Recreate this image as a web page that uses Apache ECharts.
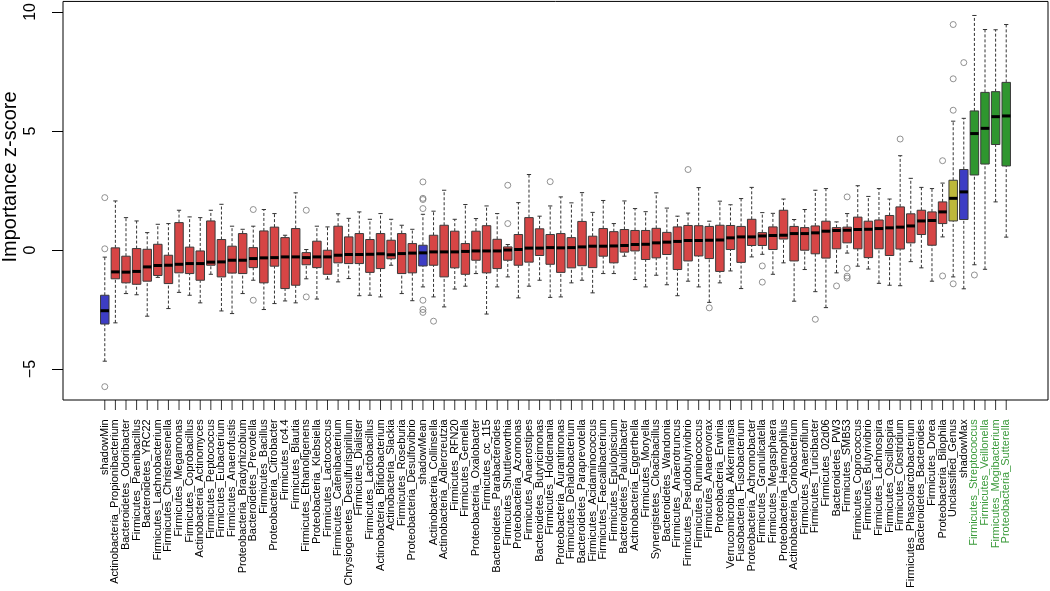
<!DOCTYPE html>
<html><head><meta charset="utf-8">
<script src="https://cdn.jsdelivr.net/npm/echarts@6/dist/echarts.min.js"></script>
<style>html,body{margin:0;padding:0;background:#fff}#c{width:1050px;height:591px}</style>
</head><body><div id="c"></div>
<script>
const categories = ["shadowMin","Actinobacteria_Propionibacterium","Bacteroidetes_Odoribacter","Firmicutes_Paenibacillus","Bacteroidetes_YRC22","Firmicutes_Lachnobacterium","Firmicutes_Christensenella","Firmicutes_Megamonas","Firmicutes_Coprobacillus","Actinobacteria_Actinomyces","Firmicutes_Peptococcus","Firmicutes_Eubacterium","Firmicutes_Anaerofustis","Proteobacteria_Bradyrhizobium","Bacteroidetes_Prevotella","Firmicutes_Bacillus","Proteobacteria_Citrobacter","Firmicutes_rc4.4","Firmicutes_Blautia","Firmicutes_Ethanoligenens","Proteobacteria_Klebsiella","Firmicutes_Lactococcus","Firmicutes_Catenibacterium","Chrysiogenetes_Desulfurispirillum","Firmicutes_Dialister","Firmicutes_Lactobacillus","Actinobacteria_Bifidobacterium","Actinobacteria_Slackia","Firmicutes_Roseburia","Proteobacteria_Desulfovibrio","shadowMean","Actinobacteria_Collinsella","Actinobacteria_Adlercreutzia","Firmicutes_RFN20","Firmicutes_Gemella","Proteobacteria_Oxalobacter","Firmicutes_cc_115","Bacteroidetes_Parabacteroides","Firmicutes_Shuttleworthia","Proteobacteria_Azomonas","Firmicutes_Anaerostipes","Bacteroidetes_Butyricimonas","Firmicutes_Holdemania","Proteobacteria_Aurantimonas","Firmicutes_Dehalobacterium","Bacteroidetes_Paraprevotella","Firmicutes_Acidaminococcus","Firmicutes_Faecalibacterium","Firmicutes_Epulopiscium","Bacteroidetes_Paludibacter","Actinobacteria_Eggerthella","Firmicutes_Moryella","Synergistetes_Cloacibacillus","Bacteroidetes_Wandonia","Firmicutes_Anaerotruncus","Firmicutes_Pseudobutyrivibrio","Firmicutes_Ruminococcus","Firmicutes_Anaerovorax","Proteobacteria_Erwinia","Verrucomicrobia_Akkermansia","Fusobacteria_Fusobacterium","Proteobacteria_Achromobacter","Firmicutes_Granulicatella","Firmicutes_Megasphaera","Proteobacteria_Haemophilus","Actinobacteria_Coriobacterium","Firmicutes_Anaerofilum","Firmicutes_Turicibacter","Firmicutes_02d06","Bacteroidetes_PW3","Firmicutes_SMB53","Firmicutes_Coprococcus","Firmicutes_Butyrivibrio","Firmicutes_Lachnospira","Firmicutes_Oscillospira","Firmicutes_Clostridium","Firmicutes_Phascolarctobacterium","Bacteroidetes_Bacteroides","Firmicutes_Dorea","Proteobacteria_Bilophila","Unclassified_Genus","shadowMax","Firmicutes_Streptococcus","Firmicutes_Veillonella","Firmicutes_Mogibacterium","Proteobacteria_Sutterella"];

const status = categories.map(function(c, i){
  if (c.indexOf('shadow') === 0) return 'Shadow';
  if (c === 'Unclassified_Genus') return 'Tentative';
  if (i >= 82) return 'Confirmed';
  return 'Rejected';
});

const lowerWhisker = [-4.67,-3.06,-1.83,-1.88,-2.78,-1.15,-2.46,-1.78,-1.90,-2.22,-1.02,-2.56,-2.67,-1.83,-1.27,-2.50,-2.25,-2.14,-2.22,-1.21,-2.06,-1.22,-1.34,-1.20,-1.92,-1.90,-1.97,-0.64,-1.83,-2.13,-1.55,-1.97,-2.39,-1.64,-1.52,-0.99,-2.69,-1.55,-1.13,-2.01,-1.52,-1.27,-1.99,-1.97,-1.38,-1.27,-1.80,-0.99,-0.99,-0.26,-1.24,-1.55,-1.06,-1.46,-1.92,-1.31,-1.55,-2.20,-1.38,-0.88,-1.62,-0.29,-0.18,-1.02,-0.54,-2.15,-0.82,-1.75,-2.42,-0.96,-0.13,-0.68,-0.80,-1.40,-1.48,-1.50,-0.49,-0.75,-1.31,0.55,-1.13,-1.63,-0.62,-0.81,2.02,0.54];
const q1 = [-3.11,-1.21,-1.38,-1.44,-1.31,-1.07,-1.41,-0.96,-0.99,-1.27,-0.64,-1.13,-0.97,-0.99,-0.74,-1.38,-0.68,-1.62,-1.48,-0.62,-0.74,-1.02,-0.54,-0.57,-0.57,-0.94,-0.78,-0.37,-0.99,-0.96,-0.67,-0.64,-1.13,-0.75,-1.02,-0.43,-0.96,-0.78,-0.43,-0.64,-0.51,-0.23,-0.60,-0.94,-0.75,-0.66,-0.74,-0.26,-0.54,-0.09,-0.04,-0.40,-0.33,-0.19,-0.82,-0.46,-0.25,-0.36,-0.90,0.02,-0.52,0.19,0.19,0.02,0.46,-0.46,-0.01,-0.16,-0.34,0.05,0.30,0.05,-0.32,0.05,-0.23,0.04,0.30,0.65,0.20,1.11,1.22,1.28,3.15,3.61,4.43,3.53];
const median = [-2.55,-0.92,-0.93,-0.90,-0.71,-0.65,-0.64,-0.60,-0.57,-0.57,-0.51,-0.50,-0.43,-0.43,-0.36,-0.33,-0.32,-0.29,-0.29,-0.32,-0.29,-0.29,-0.22,-0.19,-0.19,-0.18,-0.16,-0.20,-0.15,-0.13,-0.12,-0.08,-0.08,-0.08,-0.06,-0.04,-0.04,-0.04,0.00,0.02,0.08,0.08,0.10,0.09,0.10,0.13,0.16,0.16,0.17,0.19,0.23,0.24,0.30,0.33,0.36,0.40,0.40,0.41,0.42,0.51,0.55,0.55,0.59,0.61,0.62,0.69,0.69,0.72,0.79,0.82,0.83,0.86,0.87,0.90,0.93,0.96,1.01,1.22,1.24,1.60,2.17,2.44,4.89,5.11,5.60,5.63];
const q3 = [-1.90,0.09,-0.26,0.06,0.03,0.24,-0.22,1.15,0.12,-0.04,1.22,0.44,0.16,0.69,0.10,0.80,0.96,0.52,0.90,-0.11,0.37,-0.01,1.00,0.55,0.69,0.44,0.69,0.41,0.69,0.27,0.20,0.62,1.04,0.79,0.27,0.79,1.02,0.45,0.13,0.65,1.36,0.89,0.65,0.69,0.52,1.20,0.58,0.90,0.77,0.86,0.82,0.82,0.91,0.74,0.97,1.03,1.02,0.99,1.04,1.03,0.99,1.29,0.73,0.97,1.67,0.99,0.94,1.01,1.21,0.94,0.96,1.38,1.21,1.26,1.45,1.81,1.52,1.67,1.60,2.02,2.93,3.38,5.84,6.62,6.65,7.04];
const upperWhisker = [-0.30,2.06,1.36,1.22,0.73,1.08,1.11,1.67,1.39,1.36,1.67,1.92,1.00,0.87,1.00,1.70,1.53,0.62,2.40,0.02,1.00,0.97,1.52,1.33,1.60,1.29,1.53,1.29,1.04,0.87,1.50,1.63,2.51,1.29,1.91,1.32,1.85,1.53,0.23,1.99,3.17,1.42,1.85,2.23,1.98,2.41,1.58,2.08,1.11,2.06,1.74,1.61,2.40,1.76,1.42,1.55,2.62,1.21,2.05,1.90,2.16,2.63,1.57,1.54,2.14,1.28,1.70,2.51,2.58,1.18,1.53,2.70,2.25,2.58,2.14,3.96,3.01,2.63,2.58,2.81,5.41,5.53,9.85,9.26,9.25,9.47];
const outliers = [[2.20,0.05,-5.74],[],[],[],[],[],[],[],[],[],[],[],[],[],[1.70,-2.11],[],[],[],[],[1.67,-1.97],[],[],[],[],[],[],[],[],[],[],[2.86,2.17,2.12,1.74,-2.11,-2.50,-2.62],[-2.99],[],[],[],[],[],[],[2.72,1.11],[],[],[],[2.87],[],[],[],[],[],[],[],[],[],[],[],[],[3.38],[],[-2.43],[],[],[],[],[-0.67,-1.35],[],[],[],[],[-2.91],[],[-1.51],[2.23,-0.77,-1.10,-1.18],[],[],[],[],[4.66],[],[],[],[3.75,-1.09],[9.47,7.19,5.87,-1.42],[7.87],[-1.05],[],[],[]];
const yTicks = [-5, 0, 5, 10];
const yLabel = 'Importance z-score';

const FONT = '"Liberation Sans", Arial, Helvetica, sans-serif';
const fills = {Rejected: '#D64545', Shadow: '#3D3DC4', Tentative: '#BDB83A', Confirmed: '#2F962F'};

const X_MIN = -2.94, X_MAX = 89.94, Y_MIN = -6.30, Y_MAX = 10.44;
const G_LEFT = 63, G_RIGHT = 2, G_TOP = 1, G_BOTTOM = 191;
const TICK_LEN = 10;
const plotW = 1050 - G_LEFT - G_RIGHT;
const unit = plotW / (X_MAX - X_MIN);
const bandLeft = G_LEFT + (0.5 - X_MIN) * unit;
const bandRight = 1050 - (bandLeft + categories.length * unit);

const boxData = categories.map(function(c, i){ return [i + 1, lowerWhisker[i], q1[i], median[i], q3[i], upperWhisker[i]]; });
const outData = [];
outliers.forEach(function(arr, i){ arr.forEach(function(v){ outData.push([i + 1, v]); }); });
const tickData = categories.map(function(c, i){ return [i + 1, 0]; });
const catData = categories.map(function(c, i){
  return status[i] === 'Confirmed' ? {value: c, textStyle: {color: '#3A9A3A'}} : c;
});

const chart = echarts.init(document.getElementById('c'), null, {renderer: 'canvas'});
chart.setOption({
  animation: false,
  backgroundColor: '#fff',
  grid: [
    {left: G_LEFT, right: G_RIGHT, top: G_TOP, bottom: G_BOTTOM, show: true, borderColor: '#000', borderWidth: 1, backgroundColor: 'transparent'},
    {left: bandLeft, right: bandRight, top: G_TOP, bottom: G_BOTTOM},
    {left: G_LEFT, right: G_RIGHT, top: 591 - G_BOTTOM, height: TICK_LEN}
  ],
  xAxis: [{
    gridIndex: 0, type: 'value', min: X_MIN, max: X_MAX, show: false
  }, {
    gridIndex: 1, type: 'category', data: catData, boundaryGap: true,
    axisLine: {show: false, onZero: false},
    axisTick: {show: false},
    axisLabel: {interval: 0, rotate: 90, fontSize: 11, margin: 29, color: '#000', fontFamily: FONT}
  }, {
    gridIndex: 2, type: 'value', min: X_MIN, max: X_MAX, show: false
  }],
  yAxis: [{
    gridIndex: 0, type: 'value', min: Y_MIN, max: Y_MAX,
    splitLine: {show: false}, axisLine: {show: false, onZero: false},
    axisTick: {show: true, customValues: yTicks, length: 11, lineStyle: {color: '#000', width: 1}},
    axisLabel: {
      customValues: yTicks, rotate: 90, fontSize: 16, margin: 24, color: '#000', fontFamily: FONT,
      formatter: function(v){ return v < 0 ? '\u2212' + Math.abs(v) : String(v); }
    }
  }, {
    gridIndex: 1, type: 'value', show: false
  }, {
    gridIndex: 2, type: 'value', min: -1, max: 1, show: false
  }],
  graphic: [{
    type: 'text', x: 10, y: 177, rotation: Math.PI / 2,
    style: {text: yLabel, fontSize: 20, fontFamily: FONT, fill: '#000', align: 'center', verticalAlign: 'middle'}
  }],
  series: [{
    type: 'custom',
    xAxisIndex: 0, yAxisIndex: 0,
    data: boxData,
    encode: {x: 0, y: [1, 2, 3, 4, 5]},
    renderItem: function(params, api){
      var x = api.value(0);
      var lo = api.coord([x, api.value(1)]);
      var a = api.coord([x, api.value(2)]);
      var m = api.coord([x, api.value(3)]);
      var b = api.coord([x, api.value(4)]);
      var hi = api.coord([x, api.value(5)]);
      var w = api.size([0.8, 0])[0];
      var cw = w * 0.5;
      var cx = lo[0];
      var fill = fills[status[params.dataIndex]];
      var wl = {stroke: '#333', lineWidth: 1, lineDash: [3, 2]};
      var sl = {stroke: '#333', lineWidth: 1};
      return {type: 'group', children: [
        {type: 'line', shape: {x1: cx, y1: lo[1], x2: cx, y2: a[1]}, style: wl},
        {type: 'line', shape: {x1: cx, y1: b[1], x2: cx, y2: hi[1]}, style: wl},
        {type: 'line', shape: {x1: cx - cw / 2, y1: lo[1], x2: cx + cw / 2, y2: lo[1]}, style: sl},
        {type: 'line', shape: {x1: cx - cw / 2, y1: hi[1], x2: cx + cw / 2, y2: hi[1]}, style: sl},
        {type: 'rect', shape: {x: cx - w / 2, y: b[1], width: w, height: a[1] - b[1]}, style: {fill: fill, stroke: '#3a3a3a', lineWidth: 1}},
        {type: 'line', shape: {x1: cx - w / 2, y1: m[1], x2: cx + w / 2, y2: m[1]}, style: {stroke: '#000', lineWidth: 3}}
      ]};
    },
    z: 2
  }, {
    type: 'scatter',
    xAxisIndex: 0, yAxisIndex: 0,
    data: outData,
    symbol: 'circle',
    symbolSize: 6,
    itemStyle: {color: 'rgba(0,0,0,0)', borderColor: '#777', borderWidth: 1},
    z: 3
  }, {
    type: 'scatter',
    xAxisIndex: 2, yAxisIndex: 2,
    data: tickData,
    symbol: 'rect',
    symbolSize: [1, TICK_LEN],
    itemStyle: {color: '#000'},
    silent: true,
    z: 4
  }]
});
</script>
</body></html>
